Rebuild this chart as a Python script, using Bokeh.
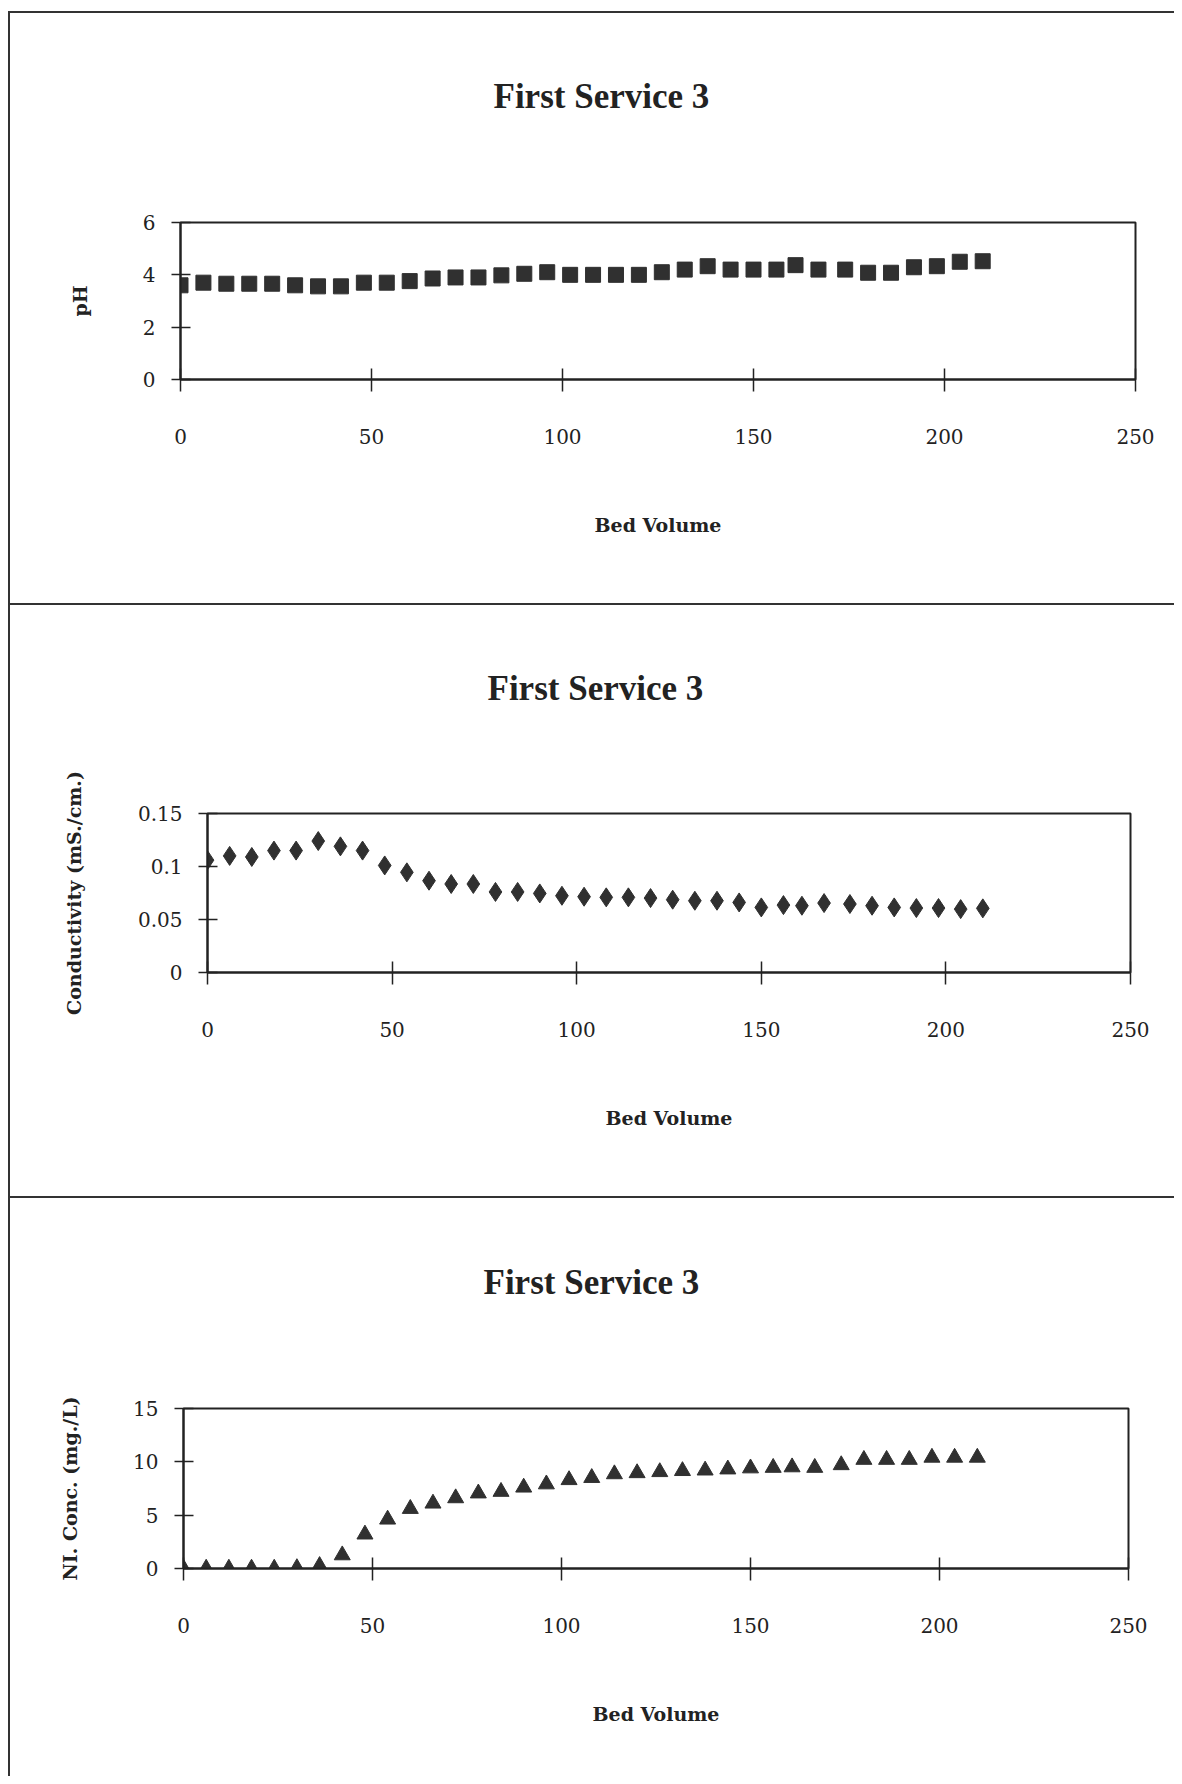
from bokeh.plotting import figure
from bokeh.models import FixedTicker, Range1d, Div, Title
from bokeh.layouts import row
from bokeh.embed import file_html
from bokeh.resources import INLINE

# ---- data ----
bed_volume = [0, 6, 12, 18, 24, 30, 36, 42, 48, 54, 60, 66, 72, 78, 84, 90, 96, 102,
              108, 114, 120, 126, 132, 138, 144, 150, 156, 161, 167, 174, 180, 186,
              192, 198, 204, 210]
ph = [3.6, 3.7, 3.66, 3.66, 3.66, 3.6, 3.56, 3.56, 3.7, 3.7, 3.76, 3.86, 3.9, 3.9,
      3.98, 4.04, 4.1, 4.0, 4.0, 4.0, 4.0, 4.1, 4.2, 4.33, 4.2, 4.2, 4.2, 4.37,
      4.2, 4.2, 4.08, 4.08, 4.29, 4.33, 4.5, 4.52]
conductivity = [0.106, 0.110, 0.109, 0.115, 0.115, 0.124, 0.119, 0.115, 0.101, 0.0945,
                0.0866, 0.0835, 0.0835, 0.076, 0.076, 0.0746, 0.0724, 0.0715, 0.0709,
                0.0709, 0.0702, 0.0687, 0.0677, 0.0677, 0.0661, 0.0614, 0.0636, 0.063,
                0.0655, 0.0646, 0.063, 0.0614, 0.0608, 0.0608, 0.0598, 0.0605]
ni_conc = [0, 0, 0, 0, 0, 0.05, 0.25, 1.25, 3.2, 4.6, 5.6, 6.1, 6.6, 7.05, 7.2, 7.6,
           7.9, 8.3, 8.5, 8.85, 8.95, 9.05, 9.15, 9.2, 9.3, 9.4, 9.45, 9.5, 9.45, 9.7,
           10.2, 10.2, 10.2, 10.4, 10.4, 10.4]

x_ticks = [0, 50, 100, 150, 200, 250]
ph_ticks = [0, 2, 4, 6]
cond_ticks = [0, 0.05, 0.1, 0.15]
cond_tick_labels = ["0", "0.05", "0.1", "0.15"]
ni_ticks = [0, 5, 10, 15]

title_text = "First Service 3"
x_label = "Bed Volume"
ph_label = "pH"
cond_label = "Conductivity (mS./cm.)"
ni_label = "NI. Conc. (mg./L)"

INK = "#222222"
MARK = "#303030"
RULE = "#333333"
BG = "#ffffff"
FIG_W = 1164
PAGE_PAD = 8


def panel(height, left, right, top, frame_h, ymax, yticks, ylabel,
          title_offset, title_gap, ylabel_standoff, y_overrides=None):
    p = figure(width=FIG_W, height=height, output_backend="svg", toolbar_location=None,
               x_range=Range1d(0, 250), y_range=Range1d(0, ymax),
               min_border_left=left, min_border_right=right, min_border_top=top,
               min_border_bottom=height - top - frame_h, title=title_text)
    p.background_fill_color = BG
    p.border_fill_color = BG
    p.outline_line_color = INK
    p.outline_line_width = 2
    p.outline_line_alpha = 1
    p.grid.visible = False

    p.title.text_font = "Liberation Serif"
    p.title.text_font_style = "bold"
    p.title.text_font_size = "35px"
    p.title.text_color = INK
    p.title.align = "left"
    p.title.vertical_align = "bottom"
    p.title.offset = title_offset
    p.title.standoff = 10
    # blank spacer between the frame and the title (pushes the title upward)
    p.add_layout(Title(text=" ", text_font_size="10px", standoff=title_gap), "above")

    xa = p.xaxis[0]
    xa.ticker = FixedTicker(ticks=x_ticks)
    xa.axis_label = x_label
    xa.axis_label_text_font = "DejaVu Serif"
    xa.axis_label_text_font_style = "bold"
    xa.axis_label_text_font_size = "19px"
    xa.axis_label_text_color = INK
    xa.axis_label_standoff = 67
    xa.major_label_text_font = "DejaVu Serif"
    xa.major_label_text_font_size = "20px"
    xa.major_label_text_color = INK
    xa.major_label_standoff = 37
    xa.major_tick_in = 11
    xa.major_tick_out = 12
    xa.minor_tick_in = 0
    xa.minor_tick_out = 0
    xa.axis_line_color = INK
    xa.axis_line_width = 2
    xa.major_tick_line_color = INK
    xa.major_tick_line_width = 1.5

    ya = p.yaxis[0]
    ya.ticker = FixedTicker(ticks=yticks)
    if y_overrides:
        ya.major_label_overrides = y_overrides
    ya.axis_label = ylabel
    ya.axis_label_text_font = "DejaVu Serif"
    ya.axis_label_text_font_style = "bold"
    ya.axis_label_text_font_size = "19px"
    ya.axis_label_text_color = INK
    ya.axis_label_standoff = ylabel_standoff
    ya.major_label_text_font = "DejaVu Serif"
    ya.major_label_text_font_size = "20px"
    ya.major_label_text_color = INK
    ya.major_label_standoff = 16
    ya.major_tick_in = 10
    ya.major_tick_out = 9
    ya.minor_tick_in = 0
    ya.minor_tick_out = 0
    ya.axis_line_color = INK
    ya.axis_line_width = 2
    ya.major_tick_line_color = INK
    ya.major_tick_line_width = 1.5
    return p


p1 = panel(590, 170, 39, 209, 157, 6, ph_ticks, ph_label, 313, 89, 49)
p1.scatter(bed_volume, ph, marker="square", size=15, fill_color=MARK, line_color=MARK)

p2 = panel(591, 197, 44, 208, 159, 0.15, cond_ticks, cond_label, 280, 88, 50,
           y_overrides={t: s for t, s in zip(cond_ticks, cond_tick_labels)})
p2.scatter(bed_volume, conductivity, marker="diamond", size=19, fill_color=MARK, line_color=MARK)

p3 = panel(578, 173, 46, 210, 160, 15, ni_ticks, ni_label, 300, 89, 49)
p3.scatter(bed_volume, ni_conc, marker="triangle", size=16, fill_color=MARK, line_color=MARK)


def hline(top_margin=0):
    return Div(width=FIG_W + 2, height=2, margin=(top_margin, 0, 0, PAGE_PAD),
               styles={"background-color": RULE})


def vline(h):
    return Div(width=2, height=h, margin=0, styles={"background-color": RULE})


roots = [
    hline(3 + PAGE_PAD),
    row(vline(590), p1, margin=(0, 0, 0, PAGE_PAD)),
    hline(),
    row(vline(591), p2, margin=(0, 0, 0, PAGE_PAD)),
    hline(),
    row(vline(578), p3, margin=(0, 0, 0, PAGE_PAD)),
]

open("out.html", "w").write(file_html(roots, INLINE))
